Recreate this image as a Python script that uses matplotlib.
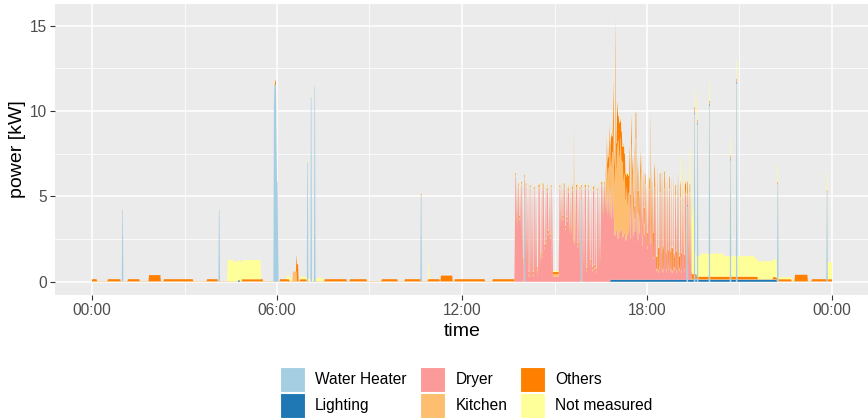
import numpy as np
import matplotlib
matplotlib.use("Agg")
import matplotlib.pyplot as plt
from matplotlib.patches import Rectangle

plt.rcParams['font.family'] = ['Liberation Sans', 'DejaVu Sans']

# ---------------------------------------------------------------- data
series_names = ["Water Heater", "Lighting", "Dryer", "Kitchen", "Others", "Not measured"]
series_colors = ["#A6CEE3", "#1F78B4", "#FB9A99", "#FDBF6F", "#FF7F00", "#FFFF99"]

x_tick_hours = [0, 6, 12, 18, 24]
x_tick_labels = ["00:00", "06:00", "12:00", "18:00", "00:00"]
y_ticks = [0, 5, 10, 15]

# Water heater: short draws (time, kW) and the long draw just before 06:00
water_heater_spikes = [("00:59", 4.2), ("04:07", 4.2), ("06:59", 7.0), ("07:06", 10.8),
                       ("07:13", 11.4), ("10:40", 5.0), ("14:01", 5.0), ("15:52", 4.8),
                       ("19:18", 4.4), ("19:32", 9.8), ("19:38", 9.2), ("20:01", 10.3),
                       ("20:42", 7.1), ("20:54", 11.6), ("22:14", 5.7), ("23:50", 5.2)]
water_heater_burst_start = "05:54"
water_heater_burst = [10.3, 11.5, 11.6, 11.5, 11.4, 8.4, 5.9, 5.8, 2.7]

# Lighting: (start, end, kW)
lighting_runs = [("04:45", "04:48", 0.1), ("16:49", "22:13", 0.12)]

# Dryer: motor level between heating pulses (3-minute readings), then heating pulses
dryer_low_start = "13:42"
dryer_low = [2.8, 3.3, 3.0, 3.6, 3.1,
             1.2, 1.0, 1.3, 1.1,
             0.3, 0.35, 0.3, 0.3, 0.35, 0.3,
             0.6, 1.0, 1.5, 1.3, 1.9, 2.2, 2.0, 2.7, 2.5,
             0.4, 0.3, 0.3, 0.3, 0.3,
             2.5, 3.2, 3.6, 3.4, 3.0, 3.5, 3.3, 2.8, 3.1, 2.4, 2.1, 2.5, 2.0,
             1.2, 0.6, 0.5, 0.4, 0.6, 0.5, 0.8, 1.0, 0.6, 0.5, 0.7, 0.5, 0.6, 0.9,
             3.2, 3.8, 3.6, 4.0, 3.7, 3.9, 3.5, 3.8, 3.3,
             2.6, 2.9, 2.4, 2.8, 3.0, 2.5, 2.7, 2.3, 2.6, 2.9, 2.4, 2.2, 2.6, 2.8,
             2.5, 2.3, 2.7, 2.4, 2.0, 2.6, 2.2, 1.8, 2.4, 2.1, 1.6, 1.2, 0.9,
             0.5, 0.4, 0.7, 0.5, 0.4, 0.6, 0.4, 0.5, 0.8, 0.5, 0.4, 0.6, 0.5, 0.4,
             0.7, 0.5, 0.4, 0.6, 0.5, 0.4, 0.5, 0.3, 0.3]
# heating pulses: (start, minutes, kW)
dryer_pulses = [("13:44", 2, 6.1), ("13:47", 1, 5.4), ("13:49", 2, 5.5), ("13:53", 1, 5.3),
                ("13:55", 2, 5.6), ("13:58", 1, 5.4), ("14:04", 2, 5.5),
                ("14:07", 1, 5.3), ("14:09", 1, 5.5), ("14:12", 2, 5.4), ("14:15", 1, 5.2),
                ("14:17", 1, 5.5), ("14:20", 2, 5.3), ("14:23", 1, 5.5), ("14:25", 1, 5.1),
                ("14:29", 2, 5.4), ("14:31", 1, 5.5), ("14:34", 1, 5.2), ("14:37", 2, 5.5),
                ("14:39", 1, 5.3), ("14:42", 1, 5.4), ("14:45", 2, 5.2), ("14:47", 1, 5.5),
                ("14:50", 1, 5.3), ("14:53", 2, 5.4), ("14:56", 1, 5.0),
                ("15:10", 2, 5.4), ("15:13", 1, 5.5), ("15:15", 1, 5.2), ("15:18", 2, 5.5),
                ("15:20", 1, 5.3), ("15:23", 1, 5.5), ("15:26", 2, 5.2), ("15:28", 1, 5.4),
                ("15:31", 1, 5.5), ("15:34", 2, 5.3), ("15:36", 1, 5.5), ("15:40", 1, 5.2),
                ("15:42", 2, 5.4), ("15:44", 1, 5.5), ("15:47", 1, 5.1), ("15:49", 2, 5.3),
                ("15:55", 1, 5.5), ("15:57", 1, 5.2), ("15:59", 2, 5.4), ("16:01", 1, 5.5),
                ("16:04", 1, 5.3), ("16:06", 2, 5.4), ("16:09", 1, 5.2), ("16:12", 1, 5.5),
                ("16:15", 2, 5.3), ("16:17", 1, 5.4), ("16:20", 1, 5.5), ("16:23", 2, 5.2),
                ("16:26", 1, 5.4), ("16:28", 1, 5.5), ("16:31", 2, 5.6), ("16:33", 1, 5.5),
                ("16:35", 1, 5.4), ("16:37", 2, 5.6), ("16:40", 1, 5.5), ("16:42", 1, 5.3),
                ("16:44", 2, 5.5), ("16:47", 1, 5.4), ("16:49", 1, 5.6), ("16:52", 2, 5.5),
                ("16:55", 1, 5.4), ("17:26", 1, 5.3), ("17:29", 2, 5.5), ("17:32", 1, 5.2),
                ("17:35", 1, 5.4), ("17:38", 2, 5.5), ("17:41", 1, 5.3), ("17:44", 1, 5.5),
                ("17:47", 2, 5.2), ("17:50", 1, 5.4), ("17:53", 1, 5.5), ("17:56", 2, 5.3),
                ("17:59", 1, 5.1), ("18:02", 1, 5.4), ("18:04", 2, 5.2), ("18:09", 1, 5.5),
                ("18:11", 1, 5.0), ("18:14", 2, 5.3), ("18:17", 1, 5.1),
                ("18:21", 1, 5.2), ("18:25", 2, 5.0), ("18:28", 1, 5.3), ("18:31", 1, 4.8),
                ("18:34", 2, 5.2), ("18:37", 1, 5.0), ("18:40", 1, 4.6), ("18:43", 2, 5.2),
                ("18:47", 1, 4.9), ("18:51", 1, 5.3), ("18:55", 2, 4.8), ("18:59", 1, 5.0),
                ("19:01", 1, 5.2), ("19:05", 2, 4.7), ("19:09", 1, 5.1), ("19:11", 1, 5.3),
                ("19:14", 2, 4.9), ("19:16", 1, 5.2), ("19:21", 1, 4.8), ("19:23", 2, 5.0),
                ("19:26", 1, 4.5)]

# Kitchen: standby, cooking runs, the evening cooking peak (2-minute readings) and spikes
kitchen_standby = 0.03
kitchen_runs = [("06:31", "06:39", 0.6), ("13:43", "19:28", 0.15)]
kitchen_peak_start = "16:40"
kitchen_peak = [0.8, 2.0, 1.2, 2.4, 1.5, 3.0, 2.0, 4.0, 2.8, 4.6, 3.6, 5.2, 5.8, 4.4,
                5.4, 4.0, 4.4, 3.2, 3.5, 2.4, 2.9, 1.8, 2.2, 1.2, 2.0, 2.6, 1.2, 1.6,
                0.8, 2.8, 1.0, 1.6, 0.6, 1.2, 0.5, 1.0, 0.4, 0.7, 0.3]
kitchen_spikes = [("15:38", 6.5), ("16:59", 10.9), ("18:07", 6.6)]

# Others: fridge cycles and other small loads
others_runs = [("00:00", "00:10", 0.12), ("00:31", "00:56", 0.12), ("01:10", "01:33", 0.12),
               ("01:51", "02:14", 0.36), ("02:20", "03:17", 0.12), ("03:44", "04:05", 0.12),
               ("04:52", "05:33", 0.12), ("06:06", "06:25", 0.12), ("06:45", "06:58", 0.12),
               ("07:33", "08:16", 0.12), ("08:22", "08:55", 0.12), ("09:24", "09:55", 0.12),
               ("10:09", "10:42", 0.12), ("10:54", "11:17", 0.12), ("11:19", "11:42", 0.33),
               ("11:46", "12:45", 0.12), ("13:00", "16:40", 0.12), ("19:30", "19:37", 0.3),
               ("19:37", "21:36", 0.15), ("22:05", "22:42", 0.12), ("22:48", "23:13", 0.38),
               ("23:21", "24:00", 0.12)]
others_spikes = [("05:57", 0.3), ("06:38", 1.0), ("06:40", 1.0)]
others_peak_start = "16:40"
others_peak = [0.5, 1.2, 0.6, 1.5, 0.8, 1.8, 0.9, 2.2, 1.2, 1.8, 1.5, 2.4, 1.4, 2.0,
               1.1, 1.7, 0.9, 2.1, 1.2, 1.5, 0.8, 1.8, 1.0, 1.4, 0.6, 1.6, 0.9, 1.2,
               0.7, 1.5, 0.9, 1.3, 0.6, 1.2, 0.7, 1.0, 0.6, 0.9, 0.7]
others_evening_start = "17:57"
others_evening = [0.5, 0.8, 0.6, 1.2, 0.9, 1.4, 1.0, 0.7, 1.3, 1.1, 0.8, 1.5, 1.0, 0.9,
                  1.2, 0.7, 1.0, 1.3, 0.8, 0.6, 1.1, 0.9, 0.7, 1.0, 0.6, 0.8, 0.5, 0.7,
                  0.4, 0.5, 0.3]

# Not measured: residual load
not_measured_runs = [("04:24", "04:35", 1.25), ("04:35", "04:52", 1.15), ("04:52", "05:29", 1.12),
                     ("06:19", "06:28", 0.2), ("06:45", "07:10", 0.15), ("07:17", "07:30", 0.2),
                     ("13:43", "19:26", 0.08), ("19:37", "19:45", 1.2),
                     ("19:45", "20:30", 1.35), ("20:30", "21:30", 1.2), ("21:30", "22:13", 1.05),
                     ("22:13", "22:45", 0.12), ("23:50", "24:00", 1.0)]
not_measured_burst_start = "19:26"
not_measured_burst = [2.5, 3.5, 3.0, 4.2, 3.8, 2.8, 3.2, 2.0, 1.5, 1.2, 1.0]
not_measured_spikes = [("10:55", 0.9), ("19:05", 1.5), ("19:11", 1.8), ("19:16", 1.2),
                       ("19:23", 2.0), ("19:32", 1.0), ("19:38", 1.2), ("20:01", 1.1),
                       ("20:42", 1.0), ("20:54", 1.1), ("22:14", 1.0), ("23:50", 1.0)]


# ---------------------------------------------------------------- build per-minute series
N = 24 * 60 + 1
hours = np.arange(N) / 60.0


def idx(hhmm):
    h, mm = hhmm.split(":")
    i = int(h) * 60 + int(mm)
    return i + 1 if i == 24 * 60 else i


def put_runs(arr, runs):
    for start, end, kw in runs:
        arr[idx(start):idx(end)] = kw


def put_spikes(arr, spikes, width=2):
    for t, kw in spikes:
        i = idx(t)
        arr[i:i + width] = kw


def put_pulses(arr, pulses):
    for t, width, kw in pulses:
        i = idx(t)
        arr[i:i + width] = kw


def put_steps(arr, start, values, step):
    i0 = idx(start)
    for k, kw in enumerate(values):
        arr[i0 + k * step:i0 + (k + 1) * step] = kw


water_heater = np.zeros(N)
put_spikes(water_heater, water_heater_spikes)
put_steps(water_heater, water_heater_burst_start, water_heater_burst, 1)

lighting = np.zeros(N)
put_runs(lighting, lighting_runs)

dryer = np.zeros(N)
put_steps(dryer, dryer_low_start, dryer_low, 3)
dryer[:idx("13:43")] = 0.0
put_pulses(dryer, dryer_pulses)

kitchen = np.full(N, kitchen_standby)
put_runs(kitchen, kitchen_runs)
put_steps(kitchen, kitchen_peak_start, kitchen_peak, 2)
put_spikes(kitchen, kitchen_spikes, width=1)

others = np.zeros(N)
put_runs(others, others_runs)
put_steps(others, others_peak_start, others_peak, 2)
put_steps(others, others_evening_start, others_evening, 3)
put_spikes(others, others_spikes)

not_measured = np.zeros(N)
put_runs(not_measured, not_measured_runs)
put_steps(not_measured, not_measured_burst_start, not_measured_burst, 1)
put_spikes(not_measured, not_measured_spikes)

series = [water_heater, lighting, dryer, kitchen, others, not_measured]
total = np.sum(series, axis=0)

# ---------------------------------------------------------------- figure
W, H = 868, 419
fig = plt.figure(figsize=(W / 100, H / 100), dpi=100)
fig.patch.set_facecolor("white")

px_left, px_right, px_top, px_bottom = 55, 869, 4, 295
ax = fig.add_axes([px_left / W, 1 - px_bottom / H,
                   (px_right - px_left) / W, (px_bottom - px_top) / H])
ax.set_facecolor("#EBEBEB")
for s in ax.spines.values():
    s.set_visible(False)

ax.stackplot(hours, *series, colors=series_colors, linewidth=0, antialiased=True, zorder=3)

# 5 % expansion on both axes
ymax = total.max()
ax.set_ylim(-0.05 * ymax, ymax * 1.05)
ax.set_xlim(-0.05 * 24, 24 * 1.05)

ax.set_xticks(x_tick_hours)
ax.set_xticklabels(x_tick_labels)
ax.set_xticks([3, 9, 15, 21], minor=True)
ax.set_yticks(y_ticks)
ax.set_yticklabels([str(v) for v in y_ticks])
ax.set_yticks([2.5, 7.5, 12.5], minor=True)

ax.grid(which="major", color="white", linewidth=1.1, zorder=1)
ax.grid(which="minor", color="white", linewidth=0.55, zorder=1)
ax.set_axisbelow(True)

ax.tick_params(which="major", length=3.6, width=0.8, color="#333333",
               labelcolor="#4D4D4D", labelsize=11.2, pad=2.2)
ax.tick_params(which="minor", length=0)

fig.text(18 / W, 1 - 149.5 / H, "power [kW]", rotation=90, ha="center", va="center",
         fontsize=14, color="black")
fig.text(462 / W, 1 - 331 / H, "time", ha="center", va="center", fontsize=14, color="black")

# legend, filled column by column
key_x = [280, 420, 519.5]
label_x = [315, 456, 555]
row_top = [367, 392.5]
key = 25
for k, (name, col) in enumerate(zip(series_names, series_colors)):
    c, r = divmod(k, 2)
    fig.add_artist(Rectangle((key_x[c] / W, 1 - (row_top[r] + key) / H), key / W, key / H,
                             transform=fig.transFigure, facecolor=col,
                             edgecolor="white", linewidth=0.8))
    fig.text(label_x[c] / W, 1 - (row_top[r] + key / 2) / H, name, ha="left", va="center",
             fontsize=11.2, color="black")

fig.savefig("out.png", dpi=100)
